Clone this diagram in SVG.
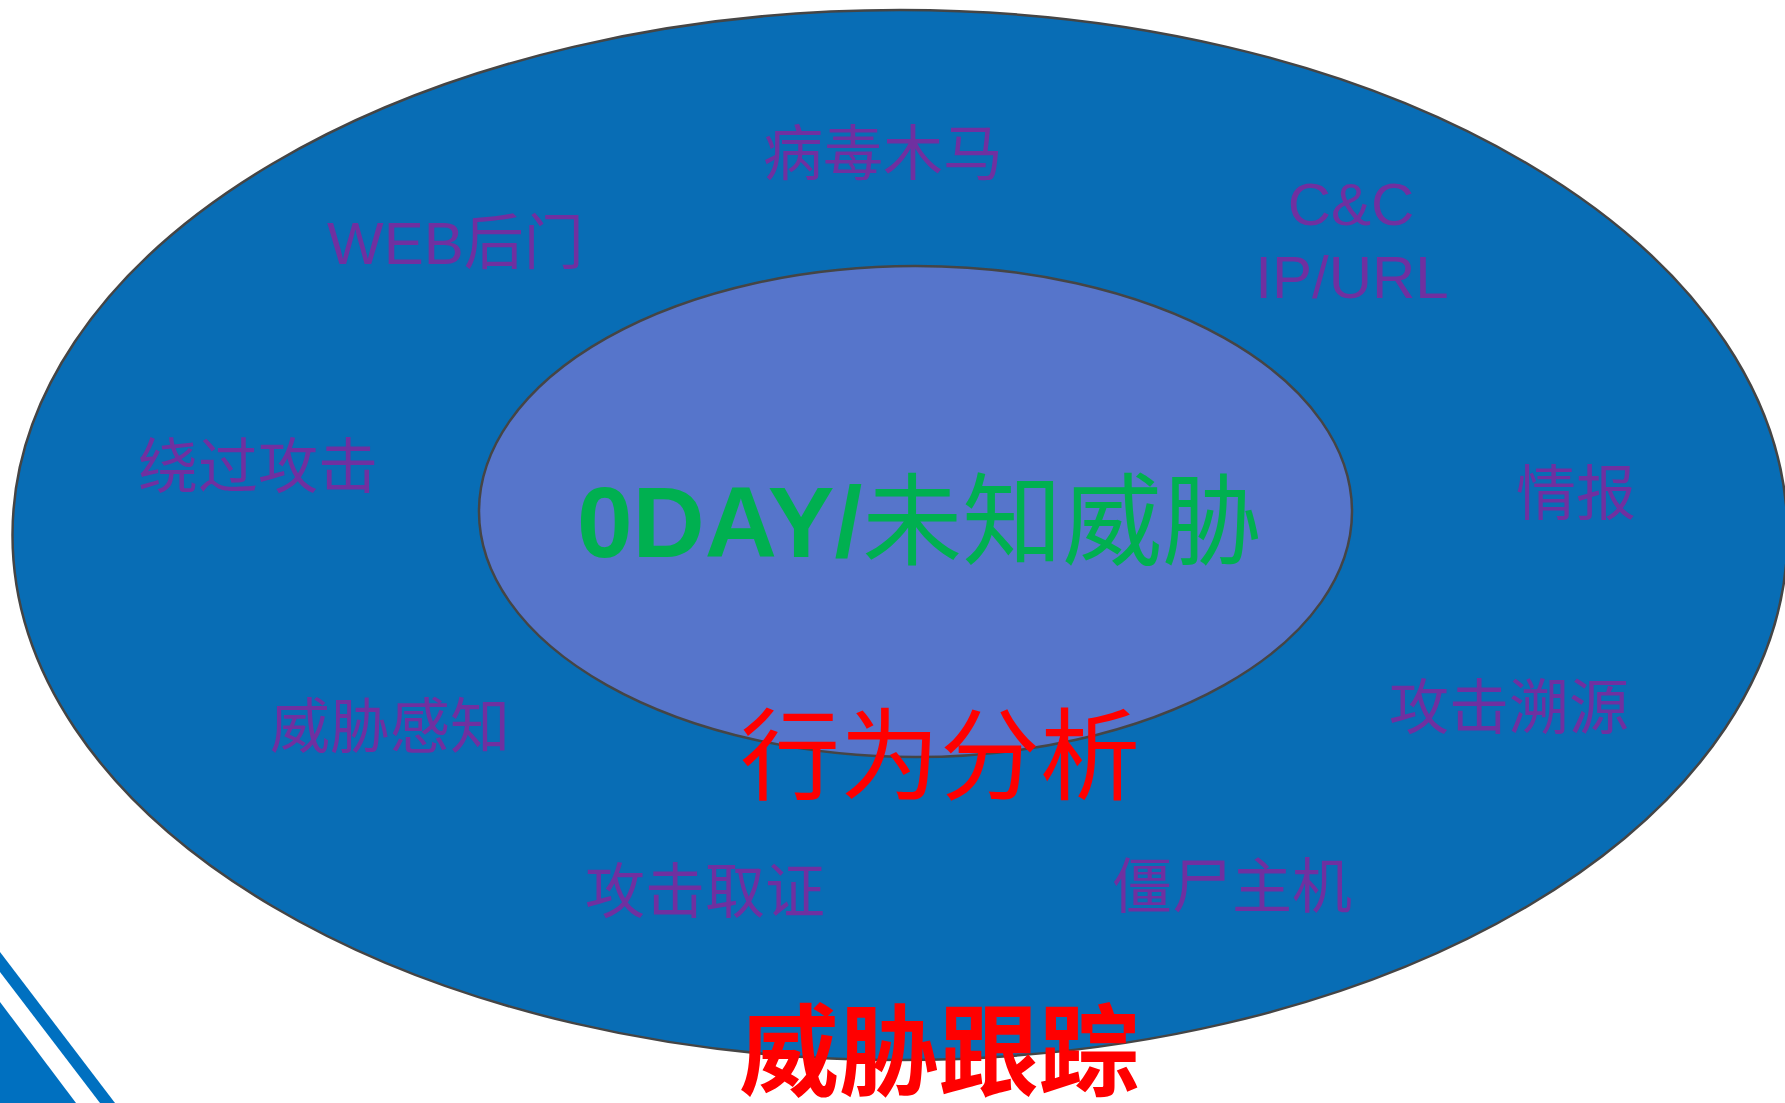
<svg xmlns="http://www.w3.org/2000/svg" width="1785" height="1103" viewBox="0 0 1785 1103">
<style>
.ring{stroke:#454545;stroke-width:2.5}
.lbl{font-family:"Liberation Sans","Noto Sans CJK SC",sans-serif;font-size:60px;fill:#7030A0}
.red{font-family:"Liberation Serif","Noto Sans CJK SC",serif;font-size:100px;fill:#FF0000;text-anchor:middle}
.core{font-family:"Liberation Sans","Noto Sans CJK SC",sans-serif;font-size:100px;font-weight:bold;fill:#00B050}
.deco{fill:#0070C0}
</style>
<rect width="1785" height="1103" fill="#FFFFFF"/>
<g id="decoration">
<polygon class="deco" points="0,952 115,1103 100,1103 0,972"/>
<polygon class="deco" points="0,1002 76,1103 0,1103"/>
</g>
<g id="outer-ring">
<ellipse class="ring" cx="900" cy="535" rx="887.5" ry="525" fill="#086DB5"/>
</g>
<g id="inner-core">
<ellipse class="ring" cx="915.5" cy="511.5" rx="436.5" ry="245.5" fill="#5675CB"/>
<text class="core" x="577" y="557">0DAY/<tspan font-weight="normal">未知威胁</tspan></text>
</g>
<g id="connectors"></g>
<g id="label-virus"><text class="lbl" x="883" y="175" text-anchor="middle">病毒木马</text></g>
<g id="label-web"><text class="lbl" x="327" y="264">WEB后门</text></g>
<g id="label-cc"><text class="lbl" x="1351" y="225" text-anchor="middle">C&amp;C</text><text class="lbl" x="1352" y="298" text-anchor="middle">IP/URL</text></g>
<g id="label-bypass"><text class="lbl" x="138" y="488">绕过攻击</text></g>
<g id="label-intel"><text class="lbl" x="1516" y="515">情报</text></g>
<g id="label-perception"><text class="lbl" x="270" y="748">威胁感知</text></g>
<g id="label-trace"><text class="lbl" x="1389" y="729">攻击溯源</text></g>
<g id="label-forensics"><text class="lbl" x="585" y="913">攻击取证</text></g>
<g id="label-botnet"><text class="lbl" x="1112" y="908">僵尸主机</text></g>
<g id="label-behavior"><text class="red" x="940" y="792">行为分析</text></g>
<g id="label-tracking"><text class="red" x="939" y="1088" font-weight="bold">威胁跟踪</text></g>
</svg>
